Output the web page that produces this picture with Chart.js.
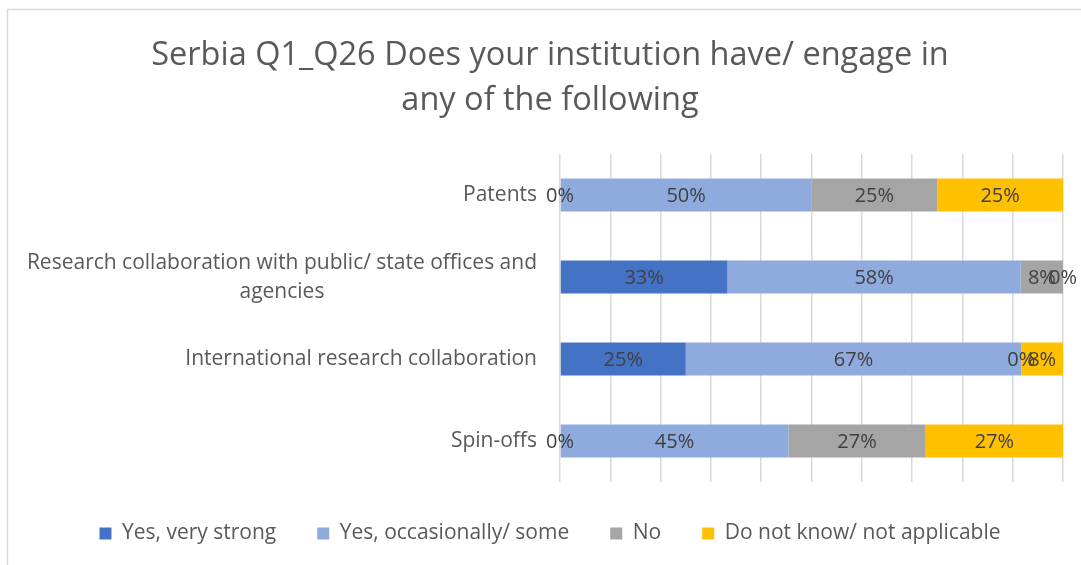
<!DOCTYPE html>
<html>
<head>
<meta charset="utf-8">
<script src="https://cdn.jsdelivr.net/npm/chart.js@4/dist/chart.umd.min.js"></script>
<style>
  html, body { margin: 0; padding: 0; background: #ffffff; overflow: hidden; }
  #wrap { width: 1081px; height: 565px; position: relative; }
</style>
</head>
<body>
<div id="wrap"><canvas id="c" width="1081" height="565"></canvas></div>
<script>
// ---- Data ----
const categories = [
  "Patents",
  ["Research collaboration with public/ state offices and", "agencies"],
  "International research collaboration",
  "Spin-offs"
];
const seriesNames = ["Yes, very strong", "Yes, occasionally/ some", "No", "Do not know/ not applicable"];
const yesVeryStrong   = [0, 33.3, 25, 0];
const yesOccasionally = [50, 58.3, 66.7, 45.4];
const noValues        = [25, 8.4, 0, 27.3];
const doNotKnow       = [25, 0, 8.3, 27.3];
const titleLines = ["Serbia Q1_Q26 Does your institution have/ engage in", "any of the following"];

const colors = ["#4472C4", "#8FAADC", "#A5A5A5", "#FFC000"];
const FONT = "'Open Sans', 'DejaVu Sans', sans-serif";

const frame = {
  id: "frame",
  beforeDraw(chart) {
    const ctx = chart.ctx;
    ctx.save();
    ctx.strokeStyle = "#d9d9d9";
    ctx.lineWidth = 1.5;
    ctx.beginPath();
    ctx.moveTo(7.5, 565);
    ctx.lineTo(7.5, 9.5);
    ctx.lineTo(1081, 9.5);
    ctx.stroke();
    ctx.restore();
  }
};

const catLabels = {
  id: "catLabels",
  afterDraw(chart) {
    const ctx = chart.ctx;
    const ys = chart.scales.y;
    const right = chart.chartArea.left - 23;
    ctx.save();
    ctx.font = "21px " + FONT;
    ctx.fillStyle = "#595959";
    ctx.textBaseline = "middle";
    chart.data.labels.forEach((lab, i) => {
      const lines = Array.isArray(lab) ? lab : [lab];
      const y0 = ys.getPixelForValue(i);
      const lh = 29;
      const widths = lines.map(l => ctx.measureText(l).width);
      const maxW = Math.max(...widths);
      const cx = right - maxW / 2;
      lines.forEach((l, k) => {
        const y = y0 + (k - (lines.length - 1) / 2) * lh;
        ctx.textAlign = "center";
        ctx.fillText(l, cx, y);
      });
    });
    ctx.restore();
  }
};

const dataLabels = {
  id: "dataLabels",
  afterDatasetsDraw(chart) {
    const ctx = chart.ctx;
    ctx.save();
    ctx.font = "20px " + FONT;
    ctx.fillStyle = "#404040";
    ctx.textAlign = "center";
    ctx.textBaseline = "middle";
    chart.data.datasets.forEach((ds, di) => {
      const meta = chart.getDatasetMeta(di);
      meta.data.forEach((bar, i) => {
        const v = ds.data[i];
        const x = (bar.x + bar.base) / 2;
        ctx.fillText(Math.round(v) + "%", x, bar.y + 1);
      });
    });
    ctx.restore();
  }
};

const seriesData = [yesVeryStrong, yesOccasionally, noValues, doNotKnow];

new Chart(document.getElementById("c"), {
  type: "bar",
  data: {
    labels: categories,
    datasets: seriesNames.map((name, i) => ({
      label: name,
      data: seriesData[i],
      backgroundColor: colors[i],
      borderWidth: 0,
      barPercentage: 0.4,
      categoryPercentage: 1.0
    }))
  },
  options: {
    indexAxis: "y",
    responsive: false,
    animation: false,
    layout: { padding: { top: 10, left: 37, right: 18, bottom: 11 } },
    scales: {
      x: {
        stacked: true,
        min: 0, max: 100,
        ticks: { display: false, stepSize: 10 },
        grid: { color: "#d9d9d9", lineWidth: 1.5, drawTicks: false },
        border: { display: false }
      },
      y: {
        stacked: true,
        ticks: { display: false },
        grid: { display: false, drawTicks: false },
        border: { display: false },
        afterFit(scale) { scale.width = 523; }
      }
    },
    plugins: {
      title: {
        display: true,
        text: titleLines,
        color: "#595959",
        font: { family: FONT, size: 32.5, weight: "normal", lineHeight: 1.385 },
        padding: { top: 23, bottom: 31 }
      },
      legend: {
        position: "bottom",
        labels: {
          color: "#595959",
          font: { family: FONT, size: 21 },
          boxWidth: 12,
          boxHeight: 12,
          padding: 41
        }
      },
      tooltip: { enabled: false }
    }
  },
  plugins: [frame, catLabels, dataLabels]
});
</script>
</body>
</html>
